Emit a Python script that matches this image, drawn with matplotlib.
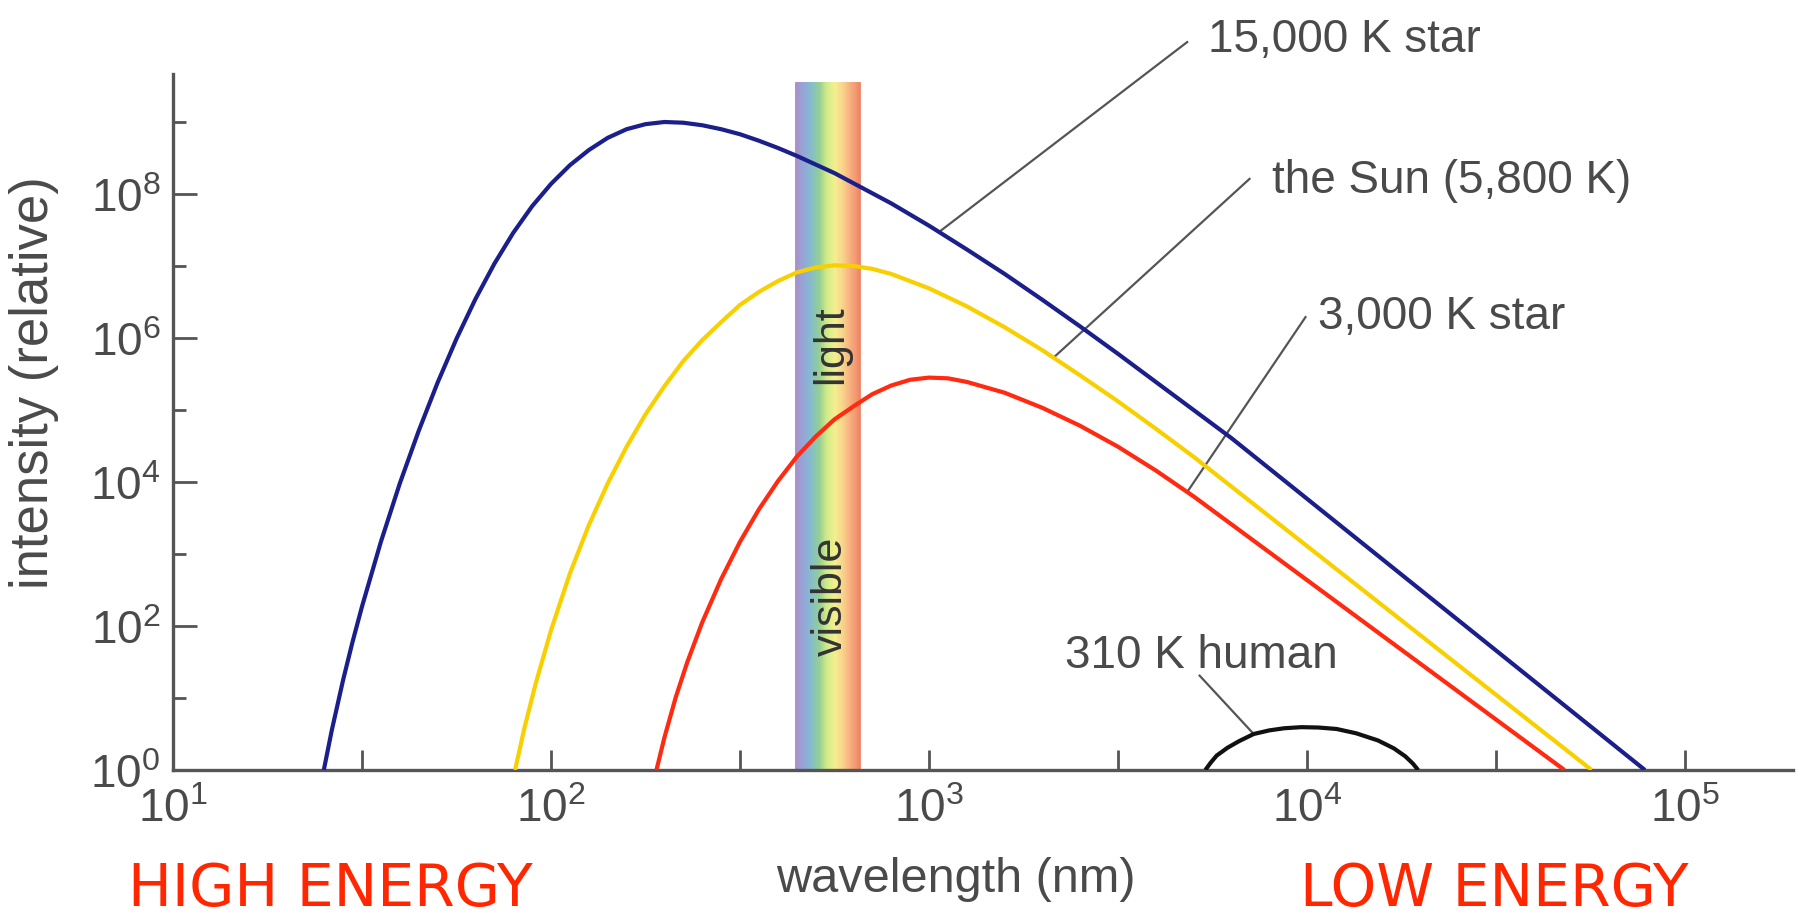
import numpy as np
import matplotlib
matplotlib.use("Agg")
import matplotlib.pyplot as plt
from matplotlib.colors import LinearSegmentedColormap
from matplotlib.ticker import NullFormatter

# ---------------- data (log10 of wavelength in nm, log10 of relative intensity) ----------------
star15000_log_wl = [1.399, 1.420, 1.450, 1.475, 1.500, 1.550, 1.600, 1.650, 1.700, 1.750,
                    1.800, 1.850, 1.900, 1.950, 2.000, 2.050, 2.100, 2.150, 2.200, 2.250,
                    2.300, 2.350, 2.400, 2.450, 2.500, 2.550, 2.600, 2.650, 2.700, 2.750,
                    2.800, 2.850, 2.900, 3.000, 3.100, 3.200, 3.300, 3.400, 3.500, 3.600,
                    3.700, 3.800, 4.894]
star15000_log_I = [0.00, 0.55, 1.25, 1.78, 2.27, 3.17, 3.98, 4.71, 5.38, 5.99,
                   6.54, 7.03, 7.46, 7.83, 8.14, 8.40, 8.61, 8.78, 8.90, 8.97,
                   9.00, 8.99, 8.955, 8.90, 8.83, 8.74, 8.64, 8.53, 8.41, 8.29,
                   8.15, 8.01, 7.87, 7.56, 7.23, 6.89, 6.53, 6.16, 5.78, 5.39,
                   5.00, 4.61, 0.00]

sun_log_wl = [1.905, 1.930, 1.960, 2.000, 2.050, 2.100, 2.150, 2.200, 2.250, 2.300,
              2.350, 2.400, 2.450, 2.500, 2.550, 2.600, 2.650, 2.700, 2.750, 2.800,
              2.850, 2.900, 3.000, 3.100, 3.200, 3.300, 3.400, 3.500, 3.600, 3.700,
              4.753]
sun_log_I = [0.00, 0.59, 1.21, 1.94, 2.73, 3.40, 3.98, 4.49, 4.94, 5.33,
             5.68, 5.97, 6.22, 6.46, 6.64, 6.79, 6.91, 6.98, 7.01, 7.00,
             6.96, 6.89, 6.69, 6.44, 6.15, 5.83, 5.48, 5.12, 4.74, 4.35,
             0.00]

star3000_log_wl = [2.279, 2.300, 2.330, 2.360, 2.400, 2.450, 2.500, 2.550, 2.600, 2.650,
                   2.700, 2.750, 2.800, 2.850, 2.900, 2.950, 3.000, 3.050, 3.100, 3.200,
                   3.300, 3.400, 3.500, 3.600, 3.700, 4.681]
star3000_log_I = [0.00, 0.45, 1.01, 1.49, 2.05, 2.65, 3.17, 3.62, 4.01, 4.35,
                  4.63, 4.87, 5.05, 5.22, 5.34, 5.42, 5.45, 5.44, 5.39, 5.24,
                  5.03, 4.78, 4.49, 4.16, 3.80, 0.00]

human_log_wl = [3.731, 3.745, 3.761, 3.790, 3.820, 3.859, 3.900, 3.940, 3.985, 4.030,
                4.078, 4.130, 4.188, 4.230, 4.260, 4.280, 4.294]
human_log_I = [0.00, 0.10, 0.20, 0.31, 0.40, 0.50, 0.55, 0.58, 0.595, 0.59,
               0.57, 0.51, 0.41, 0.30, 0.19, 0.09, 0.00]

# visible band (nm) and its height
band_lo_nm = 442
band_hi_nm = 657
band_top_log_I = 9.56

# annotations
annot_labels = ["15,000 K star", "the Sun (5,800 K)", "3,000 K star", "310 K human"]
annot_curve_log_wl = [3.026, 3.330, 3.683, 3.859]
annot_curve_log_I = [7.47, 5.73, 3.86, 0.50]
annot_end_log_wl = [3.683, 3.848, 3.996, 3.716]
annot_end_log_I = [10.11, 8.21, 6.29, 1.31]
annot_text_log_wl = [3.738, 3.907, 4.029, 3.360]
annot_text_log_I = [9.986, 8.03, 6.14, 1.43]

x_major_ticks = [1e1, 1e2, 1e3, 1e4, 1e5]
x_major_labels = ["$10^{1}$", "$10^{2}$", "$10^{3}$", "$10^{4}$", "$10^{5}$"]
x_minor_ticks = [10 ** 1.5, 10 ** 2.5, 10 ** 3.5, 10 ** 4.5]
y_major_ticks = [1e0, 1e2, 1e4, 1e6, 1e8]
y_major_labels = ["$10^{0}$", "$10^{2}$", "$10^{4}$", "$10^{6}$", "$10^{8}$"]
y_minor_ticks = [1e1, 1e3, 1e5, 1e7, 1e9]

# ---------------- style ----------------
plt.rcParams["font.family"] = ["Liberation Sans", "DejaVu Sans"]
plt.rcParams["mathtext.fontset"] = "custom"
plt.rcParams["mathtext.rm"] = "Liberation Sans"
plt.rcParams["mathtext.it"] = "Liberation Sans:italic"
plt.rcParams["mathtext.bf"] = "Liberation Sans:bold"

AX_COL = "#555555"
TXT_COL = "#4a4a4a"

fig = plt.figure(figsize=(18, 9.2), dpi=100)
W, H = 1800, 920
ax = fig.add_axes([173 / W, 1 - 771 / H, 1620 / W, 696 / H])
ax.set_xscale("log")
ax.set_yscale("log")
ax.set_xlim(10, 10 ** (1 + 1620 / 378))
ax.set_ylim(1, 10 ** (696 / 72))

for s in ["top", "right"]:
    ax.spines[s].set_visible(False)
for s in ["left", "bottom"]:
    ax.spines[s].set_color(AX_COL)
    ax.spines[s].set_linewidth(2.4)

# visible band gradient
band_colors = ["#ab8cc6", "#93a8d8", "#84bccc", "#96d08f", "#d6ec8a", "#f7ef8e",
               "#f9cf8b", "#f6ab7c", "#ee8668"]
cmap = LinearSegmentedColormap.from_list("vis", band_colors)
n_strips = 60
edges = np.geomspace(band_lo_nm, band_hi_nm, n_strips + 1)
for i in range(n_strips):
    c = cmap(i / (n_strips - 1))
    ax.fill_between([edges[i], edges[i + 1]], 1, 10 ** band_top_log_I,
                    facecolor=c, edgecolor=c, lw=0.6, zorder=1)

band_mid = np.sqrt(band_lo_nm * band_hi_nm) * 1.02
ax.text(band_mid, 10 ** 5.92, "light", rotation=90, ha="center", va="center",
        fontsize=31, color="#333333", zorder=4)
ax.text(band_mid, 10 ** 2.42, "visible", rotation=90, ha="center", va="center",
        fontsize=31, color="#333333", zorder=4)

# curves
def p(a):
    return 10 ** np.asarray(a, dtype=float)

curve_specs = [
    (star15000_log_wl, star15000_log_I, "#1b1f8a"),
    (sun_log_wl, sun_log_I, "#f8d000"),
    (star3000_log_wl, star3000_log_I, "#ff2a10"),
    (human_log_wl, human_log_I, "#111111"),
]
for xs, ys, col in curve_specs:
    ax.plot(p(xs), p(ys), color=col, lw=3.0, zorder=3,
            solid_capstyle="butt", solid_joinstyle="round")

# annotation leaders and texts
for lab, cx, cy, ex, ey, tx, ty in zip(annot_labels, annot_curve_log_wl, annot_curve_log_I,
                                      annot_end_log_wl, annot_end_log_I,
                                      annot_text_log_wl, annot_text_log_I):
    ax.plot([10 ** cx, 10 ** ex], [10 ** cy, 10 ** ey], color="#555555", lw=1.6,
            clip_on=False, zorder=2)
    ax.text(10 ** tx, 10 ** ty, lab, ha="left", va="baseline", fontsize=33,
            color=TXT_COL, zorder=5)

# ticks
ax.set_xticks(x_major_ticks, x_major_labels)
ax.set_xticks(x_minor_ticks, minor=True)
ax.xaxis.set_minor_formatter(NullFormatter())
ax.set_yticks(y_major_ticks, y_major_labels)
ax.set_yticks(y_minor_ticks, minor=True)
ax.yaxis.set_minor_formatter(NullFormatter())

ax.tick_params(axis="x", which="both", direction="in", length=14.5, width=2.0,
               color=AX_COL, labelsize=33, labelcolor=TXT_COL, pad=12)
ax.tick_params(axis="y", which="major", direction="in", length=17, width=2.0,
               color=AX_COL, labelsize=33, labelcolor=TXT_COL, pad=9)
ax.tick_params(axis="y", which="minor", direction="in", length=9.5, width=2.0,
               color=AX_COL)

# axis labels
ax.set_xlabel("wavelength (nm)", fontsize=35, color=TXT_COL, va="baseline")
ax.xaxis.set_label_coords((956 - 173) / 1620, (771 - 892) / 696)
ax.set_ylabel("intensity (relative)", fontsize=38, color=TXT_COL, va="center")
ax.yaxis.set_label_coords((34 - 173) / 1620, (771 - 383) / 696)

# energy annotations
fig.text(330 / W, 1 - 906 / H, "HIGH ENERGY", ha="center", va="baseline",
         fontsize=42, color="#ff2600", family=["DejaVu Sans"])
fig.text(1494 / W, 1 - 906 / H, "LOW ENERGY", ha="center", va="baseline",
         fontsize=42, color="#ff2600", family=["DejaVu Sans"])

fig.savefig("out.png", dpi=100, facecolor="white")
